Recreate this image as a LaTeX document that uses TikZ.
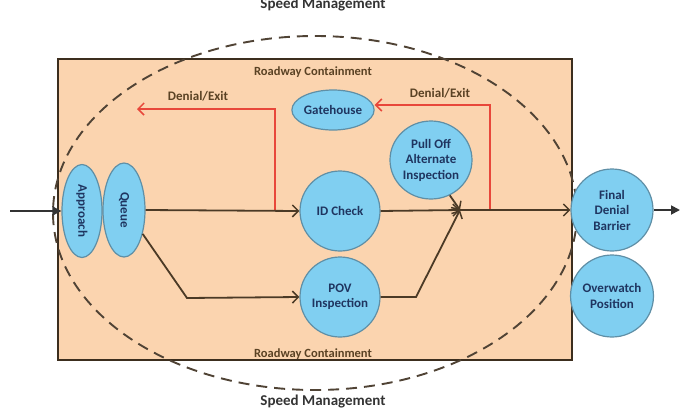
\documentclass[tikz,border=0pt]{standalone}
\usepackage{fontspec}
\setmainfont{Carlito}
\usetikzlibrary{arrows.meta,shapes.geometric}
\definecolor{peach}{HTML}{FBD4AF}
\definecolor{boxedge}{HTML}{3C2E1E}
\definecolor{bubble}{HTML}{80CFF1}
\definecolor{bubbleedge}{HTML}{5F8FA6}
\definecolor{flow}{HTML}{4B3A26}
\definecolor{exitred}{HTML}{E8473A}
\definecolor{navy}{HTML}{1F3560}
\definecolor{brownlabel}{HTML}{5A4224}
\tikzset{
  bub/.style={ellipse, fill=bubble, draw=bubbleedge, line width=1.2pt, inner sep=0pt,
    align=center, text=navy, font=\bfseries\fontsize{13}{15.5}\selectfont},
  flowline/.style={draw=flow, line width=1.8pt, -{Straight Barb[length=6pt,width=12pt,line width=1.5pt]}},
  redline/.style={draw=exitred, line width=1.6pt, -{Straight Barb[length=6pt,width=12pt,line width=1.5pt]}},
  feed/.style={draw=black!80, line width=1.8pt, -{Triangle[length=9pt,width=9pt]}},
  zonelabel/.style={text=brownlabel, font=\bfseries\fontsize{12.5}{14}\selectfont, inner sep=0pt},
  exitlabel/.style={text=brownlabel, font=\bfseries\fontsize{13}{14}\selectfont, inner sep=0pt},
  speedlabel/.style={text=black!80, font=\bfseries\fontsize{15}{17}\selectfont, inner sep=0pt},
}
\begin{document}
\begin{tikzpicture}[x=1pt,y=-1pt]
\useasboundingbox (0,0) rectangle (681,416);

% roadway containment box and speed management zone
\draw[fill=peach, draw=boxedge, line width=1.5pt] (58,59) rectangle (572,360);
\draw[boxedge!90, line width=1.9pt, dash pattern=on 11pt off 7pt] (315,213) ellipse [x radius=262, y radius=177];

\node[zonelabel] (rct) at (313,72) {Roadway Containment};
\node[zonelabel, anchor=base] (rcb) at (313,357) {Roadway Containment};
\node[speedlabel] (smb) at (323,402) {Speed Management};
\node[speedlabel] (smt) at (323,5) {Speed Management};

% stations
\node[bub, minimum width=40pt, minimum height=93pt] (app) at (82,211) {\rotatebox{-90}{Approach}};
\node[bub, minimum width=42pt, minimum height=94pt] (que) at (124,210) {\rotatebox{-90}{Queue}};
\node[bub, minimum width=80pt, minimum height=80pt] (idc) at (340,211) {ID Check};
\node[bub, minimum width=80pt, minimum height=80pt] (pov) at (340,297) {POV\\Inspection};
\node[bub, minimum width=82pt, minimum height=78pt] (pull) at (431,160) {Pull Off\\Alternate\\Inspection};
\node[bub, minimum width=82pt, minimum height=40pt] (gate) at (333,110) {Gatehouse};
\node[bub, minimum width=82pt, minimum height=82pt] (fdb) at (612,210) {Final\\Denial\\Barrier};
\node[bub, minimum width=82pt, minimum height=82pt] (ow) at (612,296) {Overwatch\\Position};

% junction points
\coordinate (in) at (10,211);
\coordinate (out) at (680,210);
\coordinate (join) at (460,210);
\coordinate (bend1) at (187,298);
\coordinate (bend2) at (416,297);
\coordinate (exitA) at (275,210);
\coordinate (exitAtop) at (275,109);
\coordinate (exitAend) at (137,109);
\coordinate (exitB) at (490,210);
\coordinate (exitBtop) at (490,105);

% red denial / exit routes
\draw[redline] (exitA) -- (exitAtop) -- (exitAend);
\draw[redline] (exitB) -- (exitBtop) -- (gate.east |- exitBtop);
\node[exitlabel] (lblA) at (198,96) {Denial/Exit};
\node[exitlabel] (lblB) at (440,93) {Denial/Exit};

% main vehicle flow
\draw[feed] (in) -- (app.west);
\draw[feed] (fdb.east) -- (out);
\draw[flowline] (que.east) -- (idc.west);
\draw[flowline] (que.-52) -- (bend1) -- (pov.west);
\draw[flowline] (idc.east) -- (join);
\draw[flowline] (pov.east) -- (bend2) -- (join);
\draw[flowline] (pull.-62) -- (join);
\draw[flowline] (join) -- (fdb.west);
\end{tikzpicture}
\end{document}
